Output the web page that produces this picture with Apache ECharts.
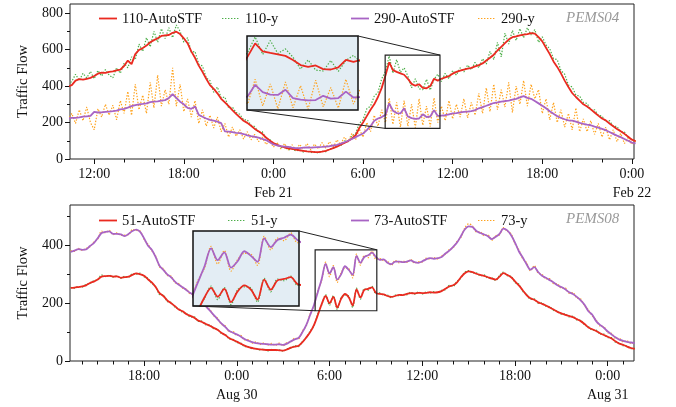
<!DOCTYPE html>
<html><head><meta charset="utf-8">
<script src="https://cdn.jsdelivr.net/npm/echarts@6/dist/echarts.min.js"></script>
<style>html,body{margin:0;padding:0;background:#fff}#c{width:676px;height:407px}</style>
</head><body><div id="c"></div>
<script>
const FONT = 'Liberation Serif';
// x positions are hours relative to midnight (Feb 21 for PEMS04, Aug 30 for PEMS08), 15-minute steps
const pems04Start = -13.75, pems08Start = -10.75, stepHours = 0.25;

const pems04_110_pred = [
398,405,430,438, 435,440,445,455, 468,473,472,478, 480,486,490,510,
540,520,575,598, 608,622,640,652, 662,675,678,680, 692,698,685,662,
635,590,555,512, 478,440,405,385, 360,330,310,290, 268,248,228,210,
198,182,165,152, 138,118,102,88, 78,70,63,58, 55,52,48,45,
42,40,38,38, 40,45,52,60, 68,78,88,98, 112,130,170,200,
235,270,300,340, 390,458,530,487, 478,470,462,440, 412,402,410,390,
388,400,440,430, 440,448,455,468, 478,485,490,495, 500,508,515,524,
540,555,572,595, 615,635,655,668, 672,678,682,685, 690,688,668,645,
610,575,535,505, 470,430,395,362, 340,320,300,288, 272,255,238,222,
212,195,180,165, 152,138,122,106, 98];
const pems04_110_true = [
410,425,465,430, 470,445,480,440, 485,455,490,460, 445,500,470,525,
500,560,545,630, 590,665,615,700, 640,715,660,720, 665,735,700,640,
665,585,590,520, 510,445,430,365, 395,335,340,280, 285,255,245,215,
215,185,178,145, 150,112,108,80, 82,62,66,50, 55,44,50,38,
44,35,40,32, 42,40,55,58, 75,72,100,95, 128,140,195,215,
275,290,345,365, 440,480,565,470, 545,475,500,455, 390,440,385,380,
437,378,437,465, 425,470,440,485, 460,500,478,515, 490,530,500,550,
520,590,545,640, 560,690,630,705, 650,715,665,720, 680,710,640,670,
625,605,550,545, 485,465,405,395, 350,345,310,305, 270,270,240,235,
205,210,180,178, 150,148,118,108, 95];
const pems04_290_pred = [
222,225,226,228, 232,234,236,258, 255,256,258,260, 262,265,272,275,
282,290,296,300, 302,305,312,315, 316,320,323,335, 355,335,314,300,
280,275,288,242, 232,222,215,210, 205,197,152,150, 147,143,142,137,
130,125,122,117, 110,104,92,80, 74,70,68,66, 62,60,60,62,
63,62,64,65, 66,68,70,74, 78,84,92,100, 110,120,130,140,
158,180,210,222, 230,242,305,265, 252,250,278,233, 224,220,222,245,
230,233,268,236, 238,240,245,250, 252,256,258,260, 262,268,278,285,
292,300,307,310, 314,318,320,325, 330,338,345,335, 330,318,305,292,
278,262,248,235, 225,218,212,210, 205,198,192,188, 185,178,172,165,
158,148,138,128, 120,110,100,90, 86];
const pems04_290_true = [
215,250,195,270, 210,285,200,160, 275,230,300,240, 295,215,320,250,
370,240,410,270, 350,250,420,280, 460,290,380,300, 500,290,410,260,
330,230,320,195, 270,180,240,170, 230,150,195,120, 175,125,160,110,
150,105,135,95, 120,80,100,65, 90,55,85,50, 78,48,80,55,
85,50,82,55, 90,60,95,65, 105,80,120,95, 140,105,165,120,
200,150,240,180, 270,200,335,190, 310,175,320,180, 300,172,330,185,
290,178,335,200, 290,210,320,220, 300,230,330,225, 310,240,360,250,
390,260,410,270, 380,285,420,255, 400,300,430,290, 410,330,380,250,
330,215,310,200, 270,175,250,160, 280,150,220,150, 210,135,195,120,
175,105,160,95, 140,85,115,80, 100];

const pems08_51_pred = [
253,254,256,258, 262,270,275,282, 292,294,295,292, 293,288,290,292,
298,303,300,295, 283,272,256,235, 225,210,200,190, 178,172,162,156,
150,140,135,128, 122,115,108,98, 90,80,73,67, 60,53,48,45,
42,40,39,38, 38,38,37,36, 40,46,50,53, 65,82,100,125,
160,198,225,200, 222,185,215,232, 220,192,248,220, 246,250,255,236,
232,231,225,222, 225,229,228,232, 235,234,236,235, 236,238,237,238,
242,250,258,262, 272,290,304,310, 308,302,298,295, 290,285,282,292,
304,298,290,276, 262,245,228,217, 212,203,198,192, 185,178,170,165,
160,156,152,145, 138,128,116,110, 104,96,90,84, 78,68,60,56,
50,45,42];
const pems08_51_true = [
255,252,258,256, 265,268,278,280, 298,292,297,290, 295,286,293,290,
302,300,304,292, 286,268,258,230, 228,206,203,186, 181,168,165,152,
153,137,138,125, 125,112,110,95, 92,77,75,64, 62,50,50,42,
44,38,41,35, 40,36,39,34, 42,44,53,50, 68,80,104,122,
165,195,230,192, 226,178,220,228, 224,185,252,214, 250,245,258,232,
236,228,228,219, 228,226,231,229, 238,231,239,232, 239,235,240,236,
245,247,262,259, 276,287,308,313, 305,305,295,298, 287,288,279,296,
308,295,293,272, 266,241,232,213, 215,200,201,189, 188,175,173,162,
163,153,155,142, 141,125,119,107, 107,93,93,81, 81,65,63,53,
52,43,44];
const pems08_73_pred = [
378,382,387,385, 386,398,408,425, 443,447,449,440, 440,438,432,440,
450,455,447,425, 400,385,360,330, 315,300,290,275, 264,255,245,235,
228,220,205,190, 175,160,145,130, 118,105,98,92, 85,76,70,65,
62,60,59,58, 57,57,58,56, 60,68,75,80, 100,125,160,195,
240,285,336,303, 325,282,300,328, 315,298,364,340, 360,366,375,360,
350,352,340,335, 344,344,342,344, 348,342,340,345, 352,356,354,356,
360,372,382,395, 410,432,455,466, 464,450,443,438, 432,422,430,440,
458,452,435,410, 380,358,335,316, 325,308,295,288, 280,272,262,256,
248,238,232,222, 210,195,172,160, 138,125,115,102, 92,82,74,70,
66,64,62];
const pems08_73_true = [
382,379,390,383, 390,395,412,422, 450,444,452,437, 444,435,436,437,
455,452,450,421, 405,382,364,326, 320,296,294,271, 268,252,249,232,
232,217,209,187, 179,157,149,127, 122,102,102,89, 89,73,74,62,
66,57,63,55, 61,54,62,53, 64,66,79,77, 104,122,164,192,
245,280,342,292, 330,272,305,322, 320,288,370,332, 365,358,380,352,
355,347,345,331, 348,340,346,341, 352,339,344,342, 356,353,358,353,
364,369,386,392, 414,428,460,475, 468,447,447,434, 436,418,434,437,
462,449,440,406, 385,354,340,312, 330,304,300,284, 285,268,267,252,
253,234,237,218, 215,191,177,156, 142,121,119,98, 96,78,78,66,
70,60,65];

const pems04TickHours = [-12, -6, 0, 6, 12, 18, 24];
const pems04TickLabels = ['12:00', '18:00', '0:00\nFeb 21', '6:00', '12:00', '18:00', '0:00\nFeb 22'];
const pems04MinorHours = [-10, -8, -4, -2, 2, 4, 8, 10, 14, 16, 20, 22];
const pems08TickHours = [-6, 0, 6, 12, 18, 24];
const pems08TickLabels = ['18:00', '0:00\nAug 30', '6:00', '12:00', '18:00', '0:00\nAug 31'];
const pems08MinorHours = [-10,-9,-8,-7,-5,-4,-3,-2,-1,1,2,3,4,5,7,8,9,10,11,13,14,15,16,17,19,20,21,22,23,25];
const pems04YTicks = [0, 200, 400, 600, 800], pems04YMinor = [100, 300, 500, 700];
const pems08YTicks = [0, 200, 400], pems08YMinor = [100, 300, 500];

const C_RED = '#ea2a20', C_GREEN = '#4cae48', C_PURPLE = '#a864c4', C_ORANGE = '#ffa21c';
const DOT = [1.4, 1.6];

function pairs(start, arr) { return arr.map((v, i) => [start + i * stepHours, v]); }

const GRID_TOP = {left: 70, top: 4, width: 564, height: 155};
const GRID_BOT = {left: 70, top: 205, width: 564, height: 156};
const INSET_TOP = {left: 247, top: 36, width: 111, height: 74};
const INSET_BOT = {left: 193, top: 231, width: 106, height: 75};
const BOX_TOP = {x0: 7.48, x1: 11.15, y0: 168, y1: 570};
const BOX_BOT = {x0: 5.07, x1: 9.06, y0: 174, y1: 385};

const txt = {fontFamily: FONT, fontSize: 14, color: '#111'};
const noLine = {show: false, onZero: false};

function mainX(grid, min, max, majors, labels, minors) {
  return [
    {type: 'value', gridIndex: grid, min, max, position: 'bottom',
     axisLine: noLine, splitLine: {show: false},
     axisTick: {show: true, length: 5, customValues: majors, lineStyle: {color: '#111'}},
     axisLabel: Object.assign({customValues: majors, margin: 6, lineHeight: 19,
       formatter: v => labels[majors.indexOf(Math.round(v))] || ''}, txt)},
    {type: 'value', gridIndex: grid, min, max, position: 'bottom',
     axisLine: noLine, splitLine: {show: false}, axisLabel: {show: false},
     axisTick: {show: true, length: 3.5, customValues: minors, lineStyle: {color: '#111'}}}
  ];
}
function mainY(grid, max, majors, minors) {
  return [
    {type: 'value', gridIndex: grid, min: 0, max, position: 'left',
     name: 'Traffic Flow', nameLocation: 'middle', nameGap: 38,
     nameTextStyle: {fontFamily: FONT, fontSize: 14.5, color: '#111'},
     axisLine: noLine, splitLine: {show: false},
     axisTick: {show: true, length: 5, customValues: majors, lineStyle: {color: '#111'}},
     axisLabel: Object.assign({customValues: majors, margin: 7}, txt)},
    {type: 'value', gridIndex: grid, min: 0, max, position: 'left',
     axisLine: noLine, splitLine: {show: false}, axisLabel: {show: false},
     axisTick: {show: true, length: 3, customValues: minors, lineStyle: {color: '#111'}}}
  ];
}

function lineSeries(name, data, color, dotted, xi, yi, z, smooth) {
  return {type: 'line', name, data, xAxisIndex: xi, yAxisIndex: yi, symbol: 'none',
    smooth: smooth || false, z, animation: false, silent: true,
    itemStyle: {color},
    lineStyle: dotted ? {color, width: 1.2, type: DOT} : {color, width: 1.8}};
}

const series = [];
function addPanel(start, sets, xi, yi, ixi, iyi, smooth) {
  [[xi, yi, 2], [ixi, iyi, 10]].forEach(([a, b, z]) => {
    sets.forEach(s => series.push(lineSeries(s[0], pairs(start, s[1]), s[2], s[3], a, b, z + (s[3] ? 0 : 1), smooth)));
  });
}
addPanel(pems04Start, [
  ['110-y', pems04_110_true, C_GREEN, true], ['290-y', pems04_290_true, C_ORANGE, true],
  ['110-AutoSTF', pems04_110_pred, C_RED, false], ['290-AutoSTF', pems04_290_pred, C_PURPLE, false]
], 0, 0, 4, 4, false);
addPanel(pems08Start, [
  ['51-y', pems08_51_true, C_GREEN, true], ['73-y', pems08_73_true, C_ORANGE, true],
  ['51-AutoSTF', pems08_51_pred, C_RED, false], ['73-AutoSTF', pems08_73_pred, C_PURPLE, false]
], 2, 2, 5, 5, 0.3);

// legend entries: [name, left, top, color, dotted]
const legendItems = [
  ['110-AutoSTF', 99, 12, C_RED, false], ['110-y', 222, 12, C_GREEN, true],
  ['290-AutoSTF', 351, 12, C_PURPLE, false], ['290-y', 478, 12, C_ORANGE, true],
  ['51-AutoSTF', 99, 214, C_RED, false], ['51-y', 228, 214, C_GREEN, true],
  ['73-AutoSTF', 351, 214, C_PURPLE, false], ['73-y', 478, 214, C_ORANGE, true]
];
const LEG_W = 18;
function legend(it) {
  return {data: [{name: it[0], icon: 'none'}], left: it[1], top: it[2], padding: 0,
    itemWidth: LEG_W, itemHeight: 10, itemGap: 0, selectedMode: false,
    textStyle: {fontFamily: FONT, fontSize: 14.5, color: '#111'}};
}

const chart = echarts.init(document.getElementById('c'));
chart.setOption({
  animation: false,
  backgroundColor: '#fff',
  title: [
    {text: 'PEMS04', left: 566, top: 11, padding: 0, textStyle: {fontFamily: FONT, fontStyle: 'italic', fontWeight: 'normal', fontSize: 15, color: '#999'}},
    {text: 'PEMS08', left: 566, top: 212, padding: 0, textStyle: {fontFamily: FONT, fontStyle: 'italic', fontWeight: 'normal', fontSize: 15, color: '#999'}}
  ],
  legend: legendItems.map(legend),
  grid: [
    Object.assign({show: true, borderColor: '#222', borderWidth: 1, backgroundColor: 'transparent'}, GRID_TOP),
    Object.assign({show: true, borderColor: '#222', borderWidth: 1, backgroundColor: 'transparent'}, GRID_BOT),
    Object.assign({show: false}, INSET_TOP),
    Object.assign({show: false}, INSET_BOT)
  ],
  xAxis: [
    ...mainX(0, -13.62, 24.14, pems04TickHours, pems04TickLabels, pems04MinorHours),
    ...mainX(1, -10.79, 25.70, pems08TickHours, pems08TickLabels, pems08MinorHours),
    {type: 'value', gridIndex: 2, min: BOX_TOP.x0, max: BOX_TOP.x1, show: false, axisLine: noLine},
    {type: 'value', gridIndex: 3, min: BOX_BOT.x0, max: BOX_BOT.x1, show: false, axisLine: noLine}
  ],
  yAxis: [
    ...mainY(0, 850, pems04YTicks, pems04YMinor),
    ...mainY(1, 540, pems08YTicks, pems08YMinor),
    {type: 'value', gridIndex: 2, min: BOX_TOP.y0, max: BOX_TOP.y1, show: false, axisLine: noLine},
    {type: 'value', gridIndex: 3, min: BOX_BOT.y0, max: BOX_BOT.y1, show: false, axisLine: noLine}
  ],
  series
});

const g = [];
// legend line icons, drawn in the slot the legend reserves before each label
legendItems.forEach(it => {
  const y = it[2] + 6.5;
  g.push({type: 'line', z: 30, silent: true, shape: {x1: it[1], y1: y, x2: it[1] + LEG_W, y2: y},
    style: it[4] ? {stroke: it[3], lineWidth: 1.2, lineDash: DOT} : {stroke: it[3], lineWidth: 1.8}});
});
function addInset(ins, box, xi, yi) {
  const shape = {x: ins.left, y: ins.top, width: ins.width, height: ins.height};
  g.push({type: 'rect', z: 5, silent: true, shape, style: {fill: '#e3edf4'}});
  g.push({type: 'rect', z: 30, silent: true, shape, style: {fill: 'none', stroke: '#111', lineWidth: 1.5}});
  const tr = chart.convertToPixel({xAxisIndex: xi, yAxisIndex: yi}, [box.x1, box.y1]);
  const bl = chart.convertToPixel({xAxisIndex: xi, yAxisIndex: yi}, [box.x0, box.y0]);
  g.push({type: 'rect', z: 30, silent: true, shape: {x: bl[0], y: tr[1], width: tr[0] - bl[0], height: bl[1] - tr[1]},
    style: {fill: 'none', stroke: '#222', lineWidth: 1.2}});
  g.push({type: 'line', z: 30, silent: true, shape: {x1: ins.left + ins.width, y1: ins.top, x2: tr[0], y2: tr[1]}, style: {stroke: '#222', lineWidth: 1}});
  g.push({type: 'line', z: 30, silent: true, shape: {x1: ins.left, y1: ins.top + ins.height, x2: bl[0], y2: bl[1]}, style: {stroke: '#222', lineWidth: 1}});
}
addInset(INSET_TOP, BOX_TOP, 0, 0);
addInset(INSET_BOT, BOX_BOT, 2, 2);
chart.setOption({graphic: {elements: g}});
</script></body></html>
